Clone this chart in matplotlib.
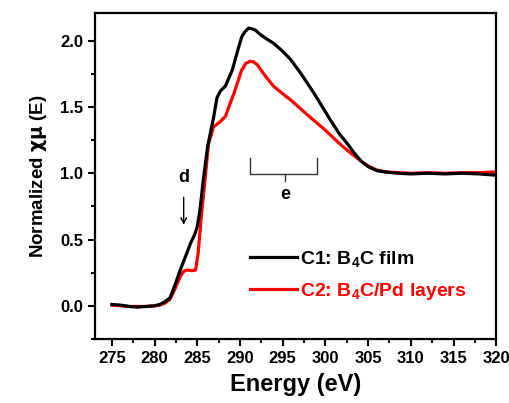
import numpy as np
import matplotlib.pyplot as plt
from matplotlib.ticker import MultipleLocator

plt.rcParams['font.family'] = ['Liberation Sans', 'DejaVu Sans']
plt.rcParams['font.weight'] = 'bold'
plt.rcParams['mathtext.default'] = 'regular'

# C1: B4C film (black)
e_film = [275, 276, 277, 278, 279, 280, 280.6, 281.2, 281.8, 282.4, 283.0, 283.6,
          284.2, 284.7, 285.0, 285.3, 285.7, 286.2, 286.9, 287.3, 287.7, 288.3,
          289.1, 289.7, 290.2, 290.6, 291.0, 291.4, 291.8, 292.4, 293.2, 293.95,
          295.0, 295.9, 297.1, 298.65, 300.6, 301.6, 302.6, 303.4, 304.2, 305.0,
          306.0, 307.0, 308.5, 310, 312, 314, 316, 318, 320]
mu_film = [0.01, 0.005, -0.005, -0.01, -0.005, 0.0, 0.01, 0.03, 0.06, 0.16, 0.27, 0.37,
           0.47, 0.54, 0.6, 0.72, 0.95, 1.2, 1.42, 1.57, 1.62, 1.66,
           1.78, 1.92, 2.03, 2.07, 2.095, 2.09, 2.08, 2.045, 2.01, 1.98,
           1.92, 1.86, 1.755, 1.605, 1.40, 1.30, 1.22, 1.15, 1.09, 1.05,
           1.02, 1.01, 1.0, 0.995, 1.0, 0.995, 1.0, 0.995, 0.985]

# C2: B4C/Pd layers (red)
e_pd = [275, 276, 277, 278, 279, 280, 280.6, 281.2, 281.8, 282.4, 283.0, 283.4,
        283.8, 284.4, 284.8, 285.1, 285.5, 285.9, 286.3, 286.9, 287.3, 287.7,
        288.3, 288.8, 289.3, 290.2, 290.7, 291.2, 291.6, 292.0, 293.0, 293.95,
        295.0, 295.9, 297.9, 299.9, 301.8, 303.0, 304.2, 305.0, 306.0, 307,
        308.5, 310, 312, 314, 316, 318, 320]
mu_pd = [0.005, 0.0, -0.005, -0.005, -0.005, 0.0, 0.005, 0.02, 0.05, 0.13, 0.22, 0.26,
         0.27, 0.265, 0.27, 0.4, 0.7, 0.95, 1.22, 1.35, 1.37, 1.39,
         1.43, 1.52, 1.605, 1.78, 1.83, 1.845, 1.84, 1.82, 1.73, 1.655,
         1.6, 1.555, 1.44, 1.33, 1.215, 1.15, 1.09, 1.055, 1.025, 1.01,
         1.005, 1.0, 1.005, 1.0, 1.005, 1.005, 1.01]

fig = plt.figure(figsize=(5.1, 4.03), dpi=100)
ax = fig.add_axes([0.186, 0.159, 0.787, 0.809])

l2, = ax.plot(e_pd, mu_pd, color='#ff0000', lw=2.3, label='C2: B$_4$C/Pd layers')
l1, = ax.plot(e_film, mu_film, color='black', lw=2.3, label='C1: B$_4$C film')

ax.set_xlim(273, 320)
ax.set_ylim(-0.25, 2.21)
ax.xaxis.set_major_locator(MultipleLocator(5))
ax.xaxis.set_minor_locator(MultipleLocator(2.5))
ax.yaxis.set_major_locator(MultipleLocator(0.5))
ax.yaxis.set_minor_locator(MultipleLocator(0.25))
ax.yaxis.set_major_formatter(plt.FormatStrFormatter('%.1f'))
ax.tick_params(which='major', length=5, width=1.5, labelsize=12, direction='out')
ax.tick_params(which='minor', length=3, width=1.5, direction='out')
for s in ax.spines.values():
    s.set_linewidth(1.6)

ax.set_xlabel('Energy (eV)', fontsize=17, fontweight='bold', labelpad=5)
ax.set_ylabel(r'Normalized $\mathrm{\chi\mu}$ (E)', fontsize=13.5, fontweight='bold', labelpad=8)

# feature d
ax.annotate('', xy=(283.4, 0.59), xytext=(283.4, 0.84),
            arrowprops=dict(arrowstyle='->', color='black', lw=1))
ax.text(283.4, 0.97, 'd', ha='center', va='center', fontsize=13)

# feature e bracket
ax.plot([291.2, 291.2, 299.05, 299.05], [1.115, 0.996, 0.996, 1.115], color='#333333', lw=1)
ax.plot([295.3, 295.3], [0.996, 0.938], color='#333333', lw=1)
ax.text(295.3, 0.84, 'e', ha='center', va='center', fontsize=13)

leg = ax.legend(handles=[l1, l2], loc='upper left', bbox_to_anchor=(0.387, 0.275),
                frameon=False, fontsize=14, handlelength=2.4, handletextpad=0.15,
                labelspacing=0.6, borderpad=0, borderaxespad=0,
                labelcolor=['black', '#ff0000'])

fig.savefig('out.png', dpi=100)
